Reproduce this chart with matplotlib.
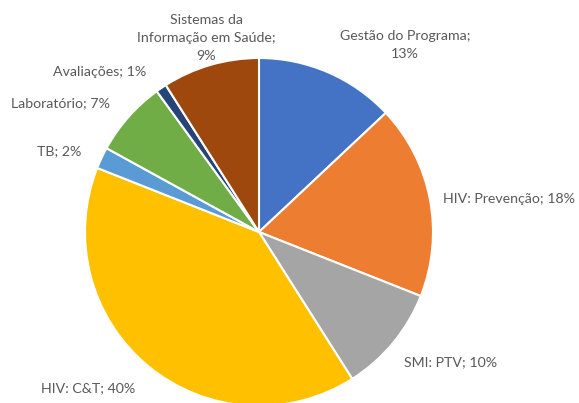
import matplotlib
matplotlib.use("Agg")
import matplotlib.pyplot as plt

categories = ["Gestão do Programa", "HIV: Prevenção", "SMI: PTV", "HIV: C&T", "TB",
              "Laboratório", "Avaliações", "Sistemas da Informação em Saúde"]
values = [13, 18, 10, 40, 2, 7, 1, 9]
label_texts = ["Gestão do Programa;\n13%", "HIV: Prevenção; 18%", "SMI: PTV; 10%",
               "HIV: C&T; 40%", "TB; 2%", "Laboratório; 7%", "Avaliações; 1%",
               "Sistemas da\nInformação em Saúde;\n9%"]
colors = ["#4472C4", "#ED7D31", "#A5A5A5", "#FFC000", "#5B9BD5", "#70AD47", "#264478", "#9E480E"]

# layout (pixel positions of label anchors, y from top) and alignment
label_pos = [(405, 45), (443, 199), (404, 362), (41, 388), (37, 151), (11, 103), (53, 72), (206, 38)]
label_ha = ["center", "left", "left", "left", "left", "left", "left", "center"]

W, H = 579, 403
fig = plt.figure(figsize=(W / 100, H / 100), dpi=100)
ax = fig.add_axes([0, 0, 1, 1])

cx, cy, r = 259, H - 232, 174
ax.pie(values, colors=colors, startangle=90, counterclock=False,
       center=(cx, cy), radius=r, frame=True,
       wedgeprops=dict(edgecolor="white", linewidth=1.5))
ax.set_xlim(0, W)
ax.set_ylim(0, H)
ax.set_aspect("equal")
ax.axis("off")

for txt, (x, y), ha in zip(label_texts, label_pos, label_ha):
    ax.text(x, H - y, txt, ha=ha, va="center", fontsize=10.2, color="#595959",
            family=["Lato", "DejaVu Sans"], linespacing=1.6, multialignment="center")

fig.savefig("out.png", dpi=100)
